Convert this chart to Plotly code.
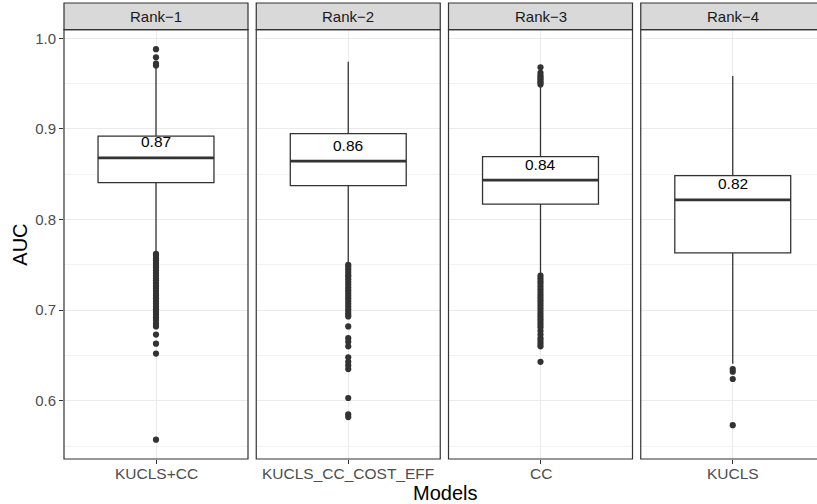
import plotly.graph_objects as go

# ---------------- data ----------------
ranks = ["Rank−1", "Rank−2", "Rank−3", "Rank−4"]
models = ["KUCLS+CC", "KUCLS_CC_COST_EFF", "CC", "KUCLS"]
q1 = [0.8408, 0.8375, 0.8170, 0.7633]
median = [0.8680, 0.8644, 0.8434, 0.8217]
q3 = [0.8920, 0.8948, 0.8695, 0.8485]
lowerfence = [0.7640, 0.7530, 0.7410, 0.6409]
upperfence = [0.9685, 0.9742, 0.9470, 0.9584]
median_labels = ["0.87", "0.86", "0.84", "0.82"]

outliers_kucls_cc = [0.988, 0.979, 0.972, 0.970,
                     0.762, 0.760, 0.757, 0.755, 0.752, 0.749, 0.747, 0.744, 0.741,
                     0.738, 0.735, 0.733, 0.730, 0.727, 0.724, 0.721, 0.718, 0.716,
                     0.713, 0.710, 0.707, 0.704, 0.701, 0.698, 0.695, 0.692, 0.689,
                     0.685, 0.682, 0.673, 0.663, 0.652, 0.557]
outliers_cost_eff = [0.750, 0.748, 0.745, 0.742, 0.739, 0.737, 0.734, 0.731, 0.728,
                     0.725, 0.722, 0.719, 0.716, 0.713, 0.710, 0.707, 0.704, 0.701,
                     0.698, 0.695, 0.693, 0.682, 0.669, 0.665, 0.660, 0.648, 0.643,
                     0.639, 0.635, 0.603, 0.585, 0.582]
outliers_cc = [0.968, 0.962, 0.959, 0.957, 0.955, 0.953, 0.951, 0.949,
               0.738, 0.735, 0.732, 0.729, 0.726, 0.723, 0.720, 0.717, 0.714,
               0.711, 0.708, 0.705, 0.702, 0.699, 0.696, 0.693, 0.690, 0.687,
               0.684, 0.681, 0.677, 0.673, 0.669, 0.666, 0.663, 0.660, 0.643]
outliers_kucls = [0.635, 0.632, 0.624, 0.573]
outliers = [outliers_kucls_cc, outliers_cost_eff, outliers_cc, outliers_kucls]

y_range = [0.5357, 1.0095]

# ---------------- layout geometry ----------------
W, H = 817, 504
ML, MR, MT, MB = 64, 0, 3, 45
PW = W - ML - MR
PH = H - MT - MB
panel_w = 184.0
panel_step = 192.25
strip_h = 26.7
box_w = 0.63
dark = "#333333"
font_fam = "Liberation Sans, Arial, sans-serif"

y_top = 1 - strip_h / PH

fig = go.Figure()
shapes = []
annotations = []

for i in range(4):
    left = i * panel_step
    right = left + panel_w
    d0 = left / PW
    d1 = min(right / PW, 1.0)
    vis_w = min(right, PW) - left
    xr = [-0.5, -0.5 + vis_w / panel_w]
    sfx = "" if i == 0 else str(i + 1)
    xa = "x" + sfx
    ya = "y" + sfx

    fig.add_trace(go.Box(
        x=[0], q1=[q1[i]], median=[median[i]], q3=[q3[i]],
        lowerfence=[lowerfence[i]], upperfence=[upperfence[i]],
        width=box_w, whiskerwidth=0, boxpoints=False,
        fillcolor="white", line=dict(color=dark, width=1.3),
        xaxis=xa, yaxis=ya, showlegend=False, hoverinfo="skip"))
    fig.add_trace(go.Scatter(
        x=[-box_w / 2, box_w / 2], y=[median[i], median[i]], mode="lines",
        line=dict(color=dark, width=2.8), xaxis=xa, yaxis=ya,
        showlegend=False, hoverinfo="skip"))
    fig.add_trace(go.Scatter(
        x=[0] * len(outliers[i]), y=outliers[i], mode="markers",
        marker=dict(color=dark, size=6.2, line=dict(width=0)),
        xaxis=xa, yaxis=ya, showlegend=False, hoverinfo="skip"))

    fig.update_layout(**{
        ("xaxis" + sfx): dict(
            domain=[d0, d1], range=xr, anchor=ya, tickvals=[0], ticktext=[""],
            showticklabels=False,
            showgrid=True, gridcolor="#ebebeb", gridwidth=1.1, zeroline=False,
            ticks="outside", ticklen=4, tickwidth=1.1, tickcolor=dark,
            showline=False, fixedrange=True, automargin=False),
        ("yaxis" + sfx): dict(
            domain=[0, y_top], range=y_range, anchor=xa,
            tick0=0, dtick=0.1, tickformat=".1f",
            showgrid=True, gridcolor="#ebebeb", gridwidth=1.1, zeroline=False,
            minor=dict(dtick=0.05, tick0=0, showgrid=True, gridcolor="#f2f2f2", gridwidth=0.6),
            ticks="outside" if i == 0 else "", ticklen=4, tickwidth=1.1, tickcolor=dark,
            showticklabels=(i == 0),
            tickfont=dict(family=font_fam, size=15, color="#4d4d4d"),
            showline=False, fixedrange=True, automargin=False),
    })

    # x category label (tick label)
    annotations.append(dict(text=models[i], xref=xa, yref="paper",
                            x=0, y=0, yshift=-14.5, xanchor="center",
                            yanchor="middle", showarrow=False,
                            font=dict(family=font_fam, size=15.5, color="#4d4d4d")))
    # panel border
    shapes.append(dict(type="rect", xref="paper", yref="paper",
                       x0=left / PW, x1=right / PW, y0=0, y1=y_top,
                       line=dict(color=dark, width=1.2), fillcolor="rgba(0,0,0,0)"))
    # strip
    shapes.append(dict(type="rect", xref="paper", yref="paper",
                       x0=left / PW, x1=right / PW, y0=y_top, y1=1,
                       line=dict(color=dark, width=1.2), fillcolor="#d9d9d9"))
    annotations.append(dict(text=ranks[i], xref="paper", yref="paper",
                            x=(left + panel_w / 2) / PW, y=(1 + y_top) / 2,
                            xanchor="center", yanchor="middle", showarrow=False,
                            font=dict(family=font_fam, size=15, color="#1a1a1a")))
    # median label
    annotations.append(dict(text=median_labels[i], xref=xa, yref=ya,
                            x=0, y=median[i], yshift=16, xanchor="center",
                            yanchor="middle", showarrow=False,
                            font=dict(family=font_fam, size=15.5, color="black")))

# axis titles
annotations.append(dict(text="Models", xref="paper", yref="paper",
                        x=(444.5 - ML) / PW, y=0, yshift=-34, xanchor="center",
                        yanchor="middle", showarrow=False,
                        font=dict(family=font_fam, size=20, color="black")))
annotations.append(dict(text="AUC", xref="paper", yref="paper",
                        x=0, xshift=-(ML - 20), y=(PH - (244.7 - MT)) / PH,
                        xanchor="center", yanchor="middle", textangle=-90,
                        showarrow=False,
                        font=dict(family=font_fam, size=20, color="black")))

fig.update_layout(
    width=W, height=H,
    margin=dict(l=ML, r=MR, t=MT, b=MB, pad=0),
    paper_bgcolor="white", plot_bgcolor="white",
    shapes=shapes, annotations=annotations,
    showlegend=False, hovermode=False,
)

fig.write_html("out.html", config={"displayModeBar": False},
               post_script="document.body.style.margin='0';document.body.style.overflow='hidden';")
